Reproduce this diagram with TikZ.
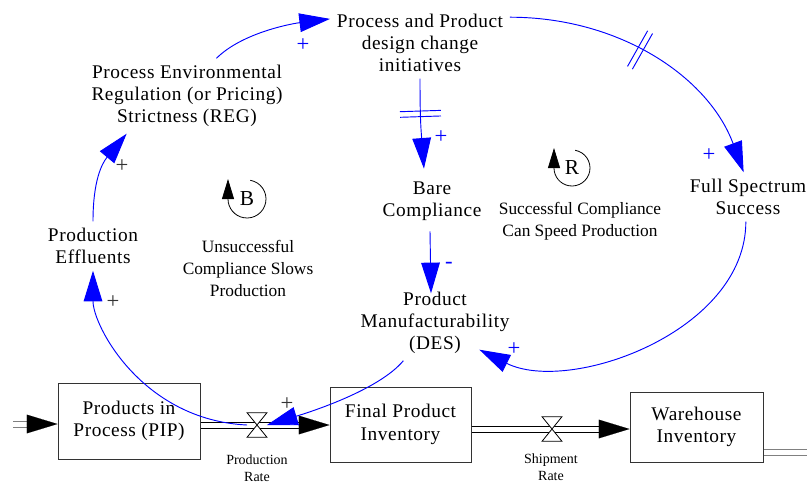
\documentclass[tikz,border=0pt]{standalone}
\usepackage{fontspec}
\setmainfont{Liberation Serif}[LetterSpace=3]
\newfontfamily\loopfont{Liberation Serif}
\usetikzlibrary{arrows.meta,calc}

\definecolor{linkblue}{RGB}{0,0,255}
\definecolor{pipegray}{RGB}{128,128,128}

\tikzset{
  var/.style={align=center, inner sep=5pt, font=\fontsize{14.5}{16.5}\selectfont},
  stock/.style={draw=black!80, line width=0.75pt, align=center, inner sep=0pt,
    font=\fontsize{14.5}{17}\selectfont},
  looplabel/.style={align=center, inner sep=0pt, font=\loopfont\fontsize{13}{16.5}\selectfont},
  ratelabel/.style={align=center, inner sep=0pt, font=\loopfont\fontsize{10.5}{12.75}\selectfont},
  link/.style={linkblue, line width=0.7pt, -{Triangle[length=23pt,width=14pt]}},
  pol/.style={inner sep=0pt, font=\loopfont\fontsize{17}{17}\selectfont},
  pipe/.style={line width=0.75pt, double, double distance=3.75pt},
  flowhead/.style={line width=0.1pt, -{Triangle[length=23pt,width=14pt]}},
  valve/.style={minimum width=14.5pt, minimum height=18pt, inner sep=0pt},
  delaymark/.style={sloped, minimum width=3.5pt, minimum height=30pt, inner sep=0pt},
  loopline/.style={line width=0.6pt, -{Triangle[length=15pt,width=9pt]}},
  loopmark/.style={inner sep=0pt, font=\loopfont\fontsize{16}{16}\selectfont}
}

\begin{document}
\begin{tikzpicture}[x=0.75pt, y=-0.75pt]
  \useasboundingbox (0,0) rectangle (807,500);

  % variables
  \node[var] (ppd) at (420,43) {Process and Product\\design change\\initiatives};
  \node[var] (reg) at (187,96) {Process Environmental\\Regulation (or Pricing)\\Strictness (REG)};
  \node[var] (eff) at (93,246) {Production\\Effluents};
  \node[var] (bare) at (432,201) {Bare\\Compliance};
  \node[var] (fss) at (748,197) {Full Spectrum\\Success};
  \node[var] (pm) at (435,323) {Product\\Manufacturability\\(DES)};

  % stocks and valves
  \node[stock, minimum width=106.5pt, minimum height=57pt] (pip) at (129,421) {Products in\\Process (PIP)};
  \node[stock, minimum width=105.75pt, minimum height=56.25pt] (fpi) at (400.5,424.5) {Final Product\\Inventory};
  \node[stock, minimum width=99.75pt, minimum height=52.5pt] (wh) at (696.5,427) {Warehouse\\Inventory};
  \node[valve] (prate) at (257,425) {};
  \node[valve] (srate) at (552,429) {};
  \node[ratelabel] (prlab) at (257,468) {Production\\Rate};
  \node[ratelabel] (srlab) at (551,467) {Shipment\\Rate};

  % flow pipes
  \coordinate (src) at (13,424);
  \coordinate (sink) at (807,452);
  \draw[pipe, pipegray] (src) -- ++(16,0);
  \draw[flowhead] ($(src -| pip.west)+(-31,0)$) -- (src -| pip.west);
  \draw[pipe] (prate -| pip.east) -- ($(prate -| fpi.west)+(-30,0)$);
  \draw[flowhead] ($(prate -| fpi.west)+(-31,0)$) -- (prate -| fpi.west);
  \draw[pipe] (srate -| fpi.east) -- ($(srate -| wh.west)+(-30,0)$);
  \draw[flowhead] ($(srate -| wh.west)+(-31,0)$) -- (srate -| wh.west);
  \draw[pipe, pipegray] (sink -| wh.east) -- (sink);
  \foreach \v in {prate, srate}
    \draw[line width=0.6pt, fill=white] (\v.north west) -- (\v.north east)
      -- (\v.south west) -- (\v.south east) -- cycle;

  % causal links
  \draw[link] (eff.north) .. controls +(0,-40) and +(-25,30) .. (reg.212);
  \draw[link] (reg.52) .. controls +(25,-25) and +(-40,5) .. (ppd.165);
  \draw[link] (ppd.16) .. controls +(110,0) and +(-35,-95) .. (fss.100)
    node[delaymark, pos=0.44] (dmC) {};
  \draw[link] (ppd.south) .. controls +(0,40) and +(-3,-40) .. ($(bare.105)+(-1,-6)$)
    node[delaymark, pos=0.37] (dmD) {};
  \draw[link] ($(bare.south)+(-2,4)$) -- ($(pm.north)+(-4,8)$);
  \draw[link] (fss.265) .. controls +(0,110) and +(90,45) .. ($(pm.south east)+(-37,-11)$);
  \draw[link] (pm.-130) .. controls +(-25,30) and +(40,-12) .. (prate.east);
  \draw[link] (prate.west) .. controls +(-105,-5) and +(0,55) .. (eff.south);
  \foreach \d in {dmC, dmD}
    \draw[linkblue, line width=0.7pt] (\d.north west) -- (\d.south west)
      (\d.north east) -- (\d.south east);

  % polarities
  \node[pol, black!80] (pA) at (122,166) {+};
  \node[pol, linkblue] (pB) at (303,45) {+};
  \node[pol, linkblue] (pC) at (709,155) {+};
  \node[pol, linkblue] (pD) at (441,137) {+};
  \node[pol, linkblue] (pE) at (449,265) {-};
  \node[pol, linkblue] (pF) at (514,349) {+};
  \node[pol, black!80] (pG) at (287,404) {+};
  \node[pol, black!80] (pH) at (113,302) {+};

  % loops
  \node[loopmark] (bloop) at (247,199) {B};
  \node[loopmark] (rloop) at (572,168) {R};
  \draw[loopline] ([shift={(80:14.25pt)}]bloop.center) arc[start angle=80, end angle=-180, radius=14.25pt] -- ++(0pt,15pt);
  \draw[loopline] ([shift={(80:13.5pt)}]rloop.center) arc[start angle=80, end angle=-180, radius=13.5pt] -- ++(0pt,15pt);
  \node[looplabel] (blab) at (248,268) {Unsuccessful\\Compliance Slows\\Production};
  \node[looplabel] (rlab) at (580,221) {Successful Compliance\\Can Speed Production};
\end{tikzpicture}
\end{document}
